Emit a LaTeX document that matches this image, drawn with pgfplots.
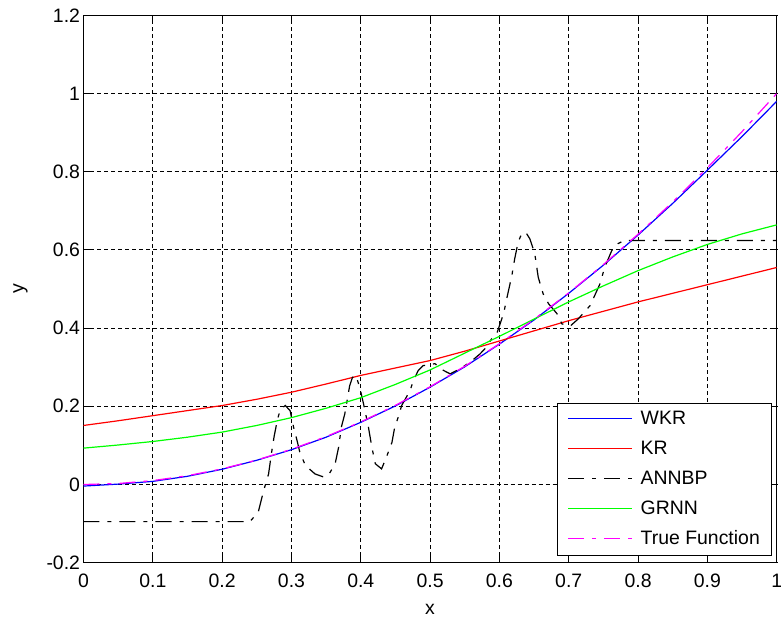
\documentclass[border=0pt]{standalone}
\usepackage{fontspec}
\setmainfont{Liberation Sans}
\usepackage{pgfplots}
\pgfplotsset{compat=1.18}

\definecolor{mblue}{RGB}{0,0,255}
\definecolor{mred}{RGB}{255,0,0}
\definecolor{mgreen}{RGB}{0,255,0}
\definecolor{mmag}{RGB}{255,0,255}

\newcommand{\figfont}{\fontsize{19.5}{23}\selectfont}

\begin{document}
\begin{tikzpicture}
\begin{axis}[
  scale only axis,
  width=693.2bp, height=547.4bp,
  xmin=0, xmax=1, ymin=-0.2, ymax=1.2,
  xtick={0,0.1,0.2,0.3,0.4,0.5,0.6,0.7,0.8,0.9,1},
  ytick={-0.2,0,0.2,0.4,0.6,0.8,1,1.2},
  grid=major,
  major grid style={black, line width=0.9bp, dash pattern=on 4bp off 3bp},
  axis line style={line width=1.2bp},
  tick align=inside,
  major tick length=7bp,
  tick style={black, line width=1.1bp},
  /pgf/number format/assume math mode=true,
  ticklabel style={font=\figfont},
  xticklabel style={yshift=-8bp},
  label style={font=\figfont},
  xlabel={x}, ylabel={y},
  xlabel style={at={(axis description cs:0.5,-0.0851)}, anchor=center},
  ylabel style={at={(axis description cs:-0.0909,0.5)}, anchor=center},
  every axis plot/.append style={line width=1.2bp},
  legend style={at={(0.9937,0.0128)}, anchor=south east, draw=black,
    line width=1bp, font=\figfont, row sep=6bp,
    inner xsep=10bp, inner ysep=4bp,
    nodes={text height=15bp, text depth=5bp, inner sep=2bp}},
  legend cell align=left,
  legend image code/.code={\draw[#1, line width=1.5bp] (0bp,0.5bp) -- (64bp,0.5bp); \path (70bp,0bp);},
]
% WKR
\addplot[draw=mblue, no markers] coordinates {
(0,-0.004) (0.05,0.001) (0.1,0.008) (0.15,0.021) (0.2,0.039) (0.25,0.062)
(0.3,0.089) (0.35,0.121) (0.4,0.159) (0.45,0.201) (0.5,0.249) (0.55,0.301)
(0.6,0.359) (0.65,0.421) (0.7,0.489) (0.75,0.561) (0.8,0.638) (0.85,0.719)
(0.9,0.804) (0.95,0.89) (1,0.98)
};
\addlegendentry{WKR}
% KR
\addplot[draw=mred, no markers] coordinates {
(0,0.151) (0.05,0.163) (0.1,0.176) (0.15,0.189) (0.2,0.202) (0.25,0.218)
(0.3,0.236) (0.35,0.257) (0.4,0.279) (0.45,0.298) (0.5,0.317) (0.55,0.341)
(0.6,0.367) (0.65,0.393) (0.7,0.419) (0.75,0.443) (0.8,0.467) (0.85,0.489)
(0.9,0.511) (0.95,0.533) (1,0.555)
};
\addlegendentry{KR}
% ANNBP
\addplot[draw=black, no markers, dash pattern=on 16bp off 8bp on 4bp off 8bp] coordinates {
(0,-0.095) (0.24,-0.095) (0.252,-0.071) (0.260,-0.015) (0.267,0.027)
(0.271,0.078) (0.275,0.123) (0.280,0.168) (0.284,0.191) (0.291,0.202)
(0.298,0.189) (0.303,0.147) (0.308,0.113) (0.312,0.083) (0.320,0.049)
(0.334,0.027) (0.345,0.020) (0.353,0.023) (0.363,0.053) (0.368,0.095)
(0.372,0.147) (0.377,0.181) (0.384,0.253) (0.388,0.274) (0.393,0.279)
(0.399,0.245) (0.404,0.206) (0.411,0.147) (0.416,0.095) (0.421,0.053)
(0.430,0.040) (0.437,0.070) (0.445,0.108) (0.449,0.147) (0.454,0.172)
(0.459,0.202) (0.471,0.240) (0.476,0.266) (0.483,0.292) (0.490,0.304)
(0.507,0.309) (0.519,0.292) (0.529,0.283) (0.543,0.296) (0.558,0.313)
(0.572,0.334) (0.579,0.347) (0.589,0.373) (0.596,0.385) (0.601,0.411)
(0.606,0.437) (0.611,0.479) (0.618,0.535) (0.622,0.577) (0.627,0.620)
(0.632,0.641) (0.638,0.645) (0.644,0.628) (0.651,0.590) (0.656,0.530)
(0.663,0.488) (0.671,0.462) (0.683,0.437) (0.690,0.411) (0.702,0.405)
(0.714,0.424) (0.731,0.458) (0.745,0.513) (0.752,0.556) (0.762,0.598)
(0.771,0.616) (0.780,0.624) (1,0.624)
};
\addlegendentry{ANNBP}
% GRNN
\addplot[draw=mgreen, no markers] coordinates {
(0,0.093) (0.05,0.101) (0.1,0.110) (0.15,0.121) (0.2,0.134) (0.25,0.151)
(0.3,0.171) (0.35,0.195) (0.4,0.222) (0.45,0.256) (0.5,0.293) (0.55,0.336)
(0.6,0.379) (0.65,0.423) (0.7,0.467) (0.75,0.508) (0.8,0.547) (0.85,0.582)
(0.9,0.614) (0.95,0.641) (1,0.664)
};
\addlegendentry{GRNN}
% True function
\addplot[draw=mmag, no markers, dash pattern=on 16bp off 8bp on 4bp off 8bp] coordinates {
(0,0) (0.05,0.0025) (0.1,0.01) (0.15,0.0225) (0.2,0.04) (0.25,0.0625)
(0.3,0.09) (0.35,0.1225) (0.4,0.16) (0.45,0.2025) (0.5,0.25) (0.55,0.3025)
(0.6,0.36) (0.65,0.4225) (0.7,0.49) (0.75,0.5625) (0.8,0.64) (0.85,0.7225)
(0.9,0.81) (0.95,0.9025) (1,1)
};
\addlegendentry{True Function}
\end{axis}
\pgfresetboundingbox
\path ([shift={(-83.5bp,-58.3bp)}]current axis.south west) rectangle ([shift={(4.3bp,15.3bp)}]current axis.north east);
\end{tikzpicture}
\end{document}
